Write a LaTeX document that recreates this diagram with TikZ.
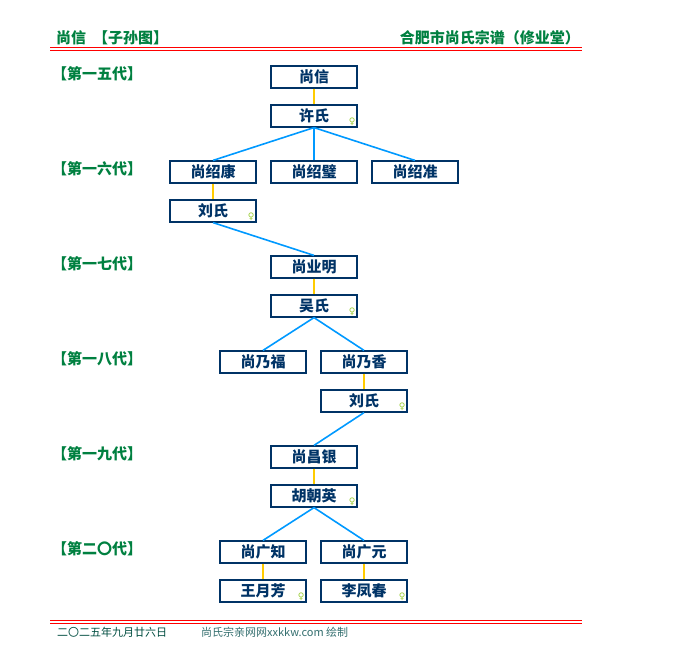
\documentclass[tikz,border=0pt]{standalone}
\usepackage{fontspec}
\newfontfamily\cjk{Noto Sans CJK SC}
\newfontfamily\sym{DejaVu Sans}
\definecolor{gengreen}{RGB}{0,128,64}
\definecolor{boxblue}{RGB}{0,51,102}
\definecolor{linkblue}{RGB}{0,153,255}
\definecolor{linkyellow}{RGB}{255,204,0}
\definecolor{femgreen}{RGB}{153,204,51}
\definecolor{footdark}{RGB}{0,77,64}
\definecolor{footlight}{RGB}{51,110,110}

\begin{document}
\begin{tikzpicture}[x=1pt,y=-1pt]
    \tikzstyle{person}=[draw=boxblue,line width=1.2pt,minimum width=86pt,minimum height=22pt,inner sep=0pt,text=boxblue,font=\cjk\bfseries\fontsize{15}{15}\selectfont]
    \tikzstyle{female}=[text=femgreen,inner sep=0pt,anchor=south east,font=\sym\fontsize{9}{9}\selectfont]
    \tikzstyle{gen}=[anchor=west,inner sep=0pt,text=gengreen,font=\cjk\bfseries\fontsize{15}{15}\selectfont]
    \tikzstyle{child}=[draw=linkblue,line width=1.6pt]
    \tikzstyle{spouse}=[draw=linkyellow,line width=1.6pt]
    \tikzstyle{rule}=[draw=red,line width=1pt]
    \useasboundingbox (0,0) rectangle (680,670);

    % header
    \node[gen] (title) at (56,38) {尚信};
    \node[gen] (tree) at (93,38) {【子孙图】};
    \node[gen,anchor=east] (hall) at (580,38) {合肥市尚氏宗谱（修业堂）};
    \draw[rule] (50,47) -- (582,47);
    \draw[rule] (50,50) -- (582,50);

    % generations
    \node[gen] (g15) at (52,74) {【第一五代】};
    \node[gen] (g16) at (52,169) {【第一六代】};
    \node[gen] (g17) at (52,264) {【第一七代】};
    \node[gen] (g18) at (52,359) {【第一八代】};
    \node[gen] (g19) at (52,454) {【第一九代】};
    \node[gen] (g20) at (52,549) {【第二〇代】};

    % people
    \node[person] (shangxin) at (314,77) {尚信};
    \node[person] (xushi) at (314,116) {许氏};
    \node[person] (shaokang) at (213,172) {尚绍康};
    \node[person] (shaobi) at (314,172) {尚绍璧};
    \node[person] (shaozhun) at (415,172) {尚绍准};
    \node[person] (liushiA) at (213,211) {刘氏};
    \node[person] (yeming) at (314,267) {尚业明};
    \node[person] (wushi) at (314,306) {吴氏};
    \node[person] (naifu) at (263,362) {尚乃福};
    \node[person] (naixiang) at (364,362) {尚乃香};
    \node[person] (liushiB) at (364,401) {刘氏};
    \node[person] (changyin) at (314,457) {尚昌银};
    \node[person] (huchaoying) at (314,496) {胡朝英};
    \node[person] (guangzhi) at (263,552) {尚广知};
    \node[person] (guangyuan) at (364,552) {尚广元};
    \node[person] (wangyuefang) at (263,591) {王月芳};
    \node[person] (lifengchun) at (364,591) {李凤春};

    % female marks
    \foreach \w in {xushi,liushiA,wushi,liushiB,huchaoying,wangyuefang,lifengchun}
      \node[female] at ([xshift=-2pt,yshift=1.5pt]\w.south east) {♀};

    % spouses
    \draw[spouse] (shangxin) -- (xushi);
    \draw[spouse] (shaokang) -- (liushiA);
    \draw[spouse] (yeming) -- (wushi);
    \draw[spouse] (naixiang) -- (liushiB);
    \draw[spouse] (changyin) -- (huchaoying);
    \draw[spouse] (guangzhi) -- (wangyuefang);
    \draw[spouse] (guangyuan) -- (lifengchun);

    % children
    \draw[child] (xushi.south) -- (shaokang.north);
    \draw[child] (xushi.south) -- (shaobi.north);
    \draw[child] (xushi.south) -- (shaozhun.north);
    \draw[child] (liushiA.south) -- (yeming.north);
    \draw[child] (wushi.south) -- (naifu.north);
    \draw[child] (wushi.south) -- (naixiang.north);
    \draw[child] (liushiB.south) -- (changyin.north);
    \draw[child] (huchaoying.south) -- (guangzhi.north);
    \draw[child] (huchaoying.south) -- (guangyuan.north);

    % footer
    \draw[rule] (50,620) -- (582,620);
    \draw[rule] (50,623) -- (582,623);
    \node[anchor=west,inner sep=0pt,text=footdark,font=\cjk\fontsize{11}{11}\selectfont] (date) at (57,632) {二〇二五年九月廿六日};
    \node[anchor=west,inner sep=0pt,text=footlight,font=\cjk\fontsize{11}{11}\selectfont] (site) at (201,632) {尚氏宗亲网网xxkkw.com 绘制};
\end{tikzpicture}
\end{document}
